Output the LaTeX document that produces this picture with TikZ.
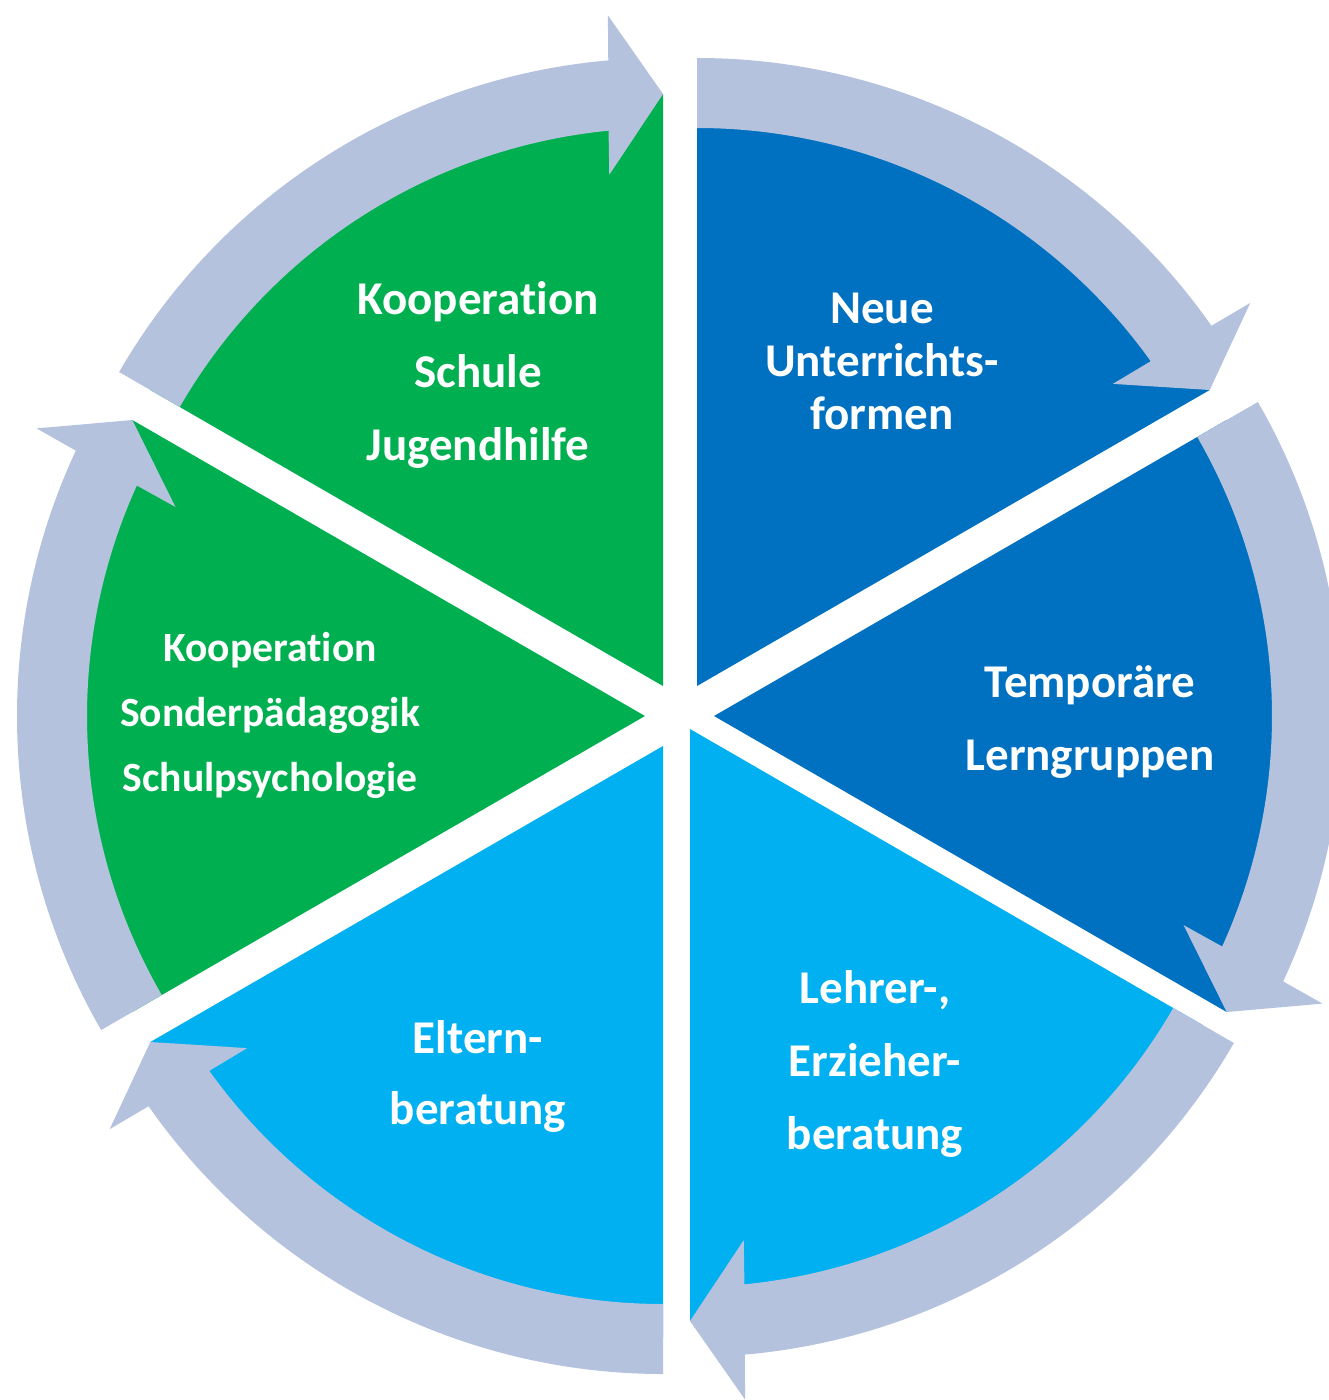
\documentclass[tikz,border=0pt]{standalone}
\usepackage{fontspec}
\setmainfont{Carlito}[Ligatures={NoCommon}]
\usetikzlibrary{calc}
\usepackage{xcolor}
\definecolor{kgreen}{HTML}{00B050}
\definecolor{kblue}{HTML}{0070C0}
\definecolor{kcyan}{HTML}{00B0F0}
\definecolor{kring}{HTML}{B4C2DD}

\begin{document}
\begin{tikzpicture}[x=1pt,y=1pt,
    ring/.style={fill=kring},
    lbl/.style={text=white,align=center,font=\bfseries\fontsize{47}{73}\selectfont}]
        \useasboundingbox (0,0) rectangle (1328,-1400);

        \fill[kblue,shift={(697,-686)}] (0,0) -- (90:592) arc[start angle=90,end angle=30,radius=592] -- cycle;
        \fill[kblue,shift={(714,-716)}] (0,0) -- (30:592) arc[start angle=30,end angle=-30,radius=592] -- cycle;
        \fill[kcyan,shift={(690,-729)}] (0,0) -- (-30:592) arc[start angle=-30,end angle=-90,radius=592] -- cycle;
        \fill[kcyan,shift={(663,-746)}] (0,0) -- (270:592) arc[start angle=270,end angle=210,radius=592] -- cycle;
        \fill[kgreen,shift={(645,-716)}] (0,0) -- (210:592) arc[start angle=210,end angle=150,radius=592] -- cycle;
        \fill[kgreen,shift={(663,-686)}] (0,0) -- (150:592) arc[start angle=150,end angle=90,radius=592] -- cycle;

        \fill[ring,shift={(697,-686)}] (90:628) arc[start angle=90,end angle=35,radius=628] -- (34.7:673) -- (30:592) -- (36:514) -- (35.6:558) arc[start angle=35.6,end angle=90,radius=558] -- cycle;
        \fill[ring,shift={(714,-716)}] (30:628) arc[start angle=30,end angle=-25,radius=628] -- (-25.3:673) -- (-30:592) -- (-24:514) -- (-24.4:558) arc[start angle=-24.4,end angle=30,radius=558] -- cycle;
        \fill[ring,shift={(690,-729)}] (-30:628) arc[start angle=-30,end angle=-85,radius=628] -- (-85.3:673) -- (-90:592) -- (-84:514) -- (-84.4:558) arc[start angle=-84.4,end angle=-30,radius=558] -- cycle;
        \fill[ring,shift={(663,-746)}] (270:628) arc[start angle=270,end angle=215,radius=628] -- (214.7:673) -- (210:592) -- (216:514) -- (215.6:558) arc[start angle=215.6,end angle=270,radius=558] -- cycle;
        \fill[ring,shift={(645,-716)}] (210:628) arc[start angle=210,end angle=155,radius=628] -- (154.7:673) -- (150:592) -- (156:514) -- (155.6:558) arc[start angle=155.6,end angle=210,radius=558] -- cycle;
        \fill[ring,shift={(663,-686)}] (150:628) arc[start angle=150,end angle=95,radius=628] -- (94.7:673) -- (90:592) -- (96:514) -- (95.6:558) arc[start angle=95.6,end angle=150,radius=558] -- cycle;

        \node[lbl,font=\bfseries\fontsize{47}{53}\selectfont] (neue) at (882,-361) {Neue\\Unterrichts-\\formen};
        \node[lbl] (temp) at (1090,-722) {Temporäre\\Lerngruppen};
        \node[lbl] (lehrer) at (875,-1064) {Lehrer-,\\Erzieher-\\beratung};
        \node[lbl,font=\bfseries\fontsize{47}{71}\selectfont] (eltern) at (478,-1076) {Eltern-\\beratung};
        \node[lbl,font=\bfseries\fontsize{41.6}{65}\selectfont] (sonder) at (270,-715) {Kooperation\\Sonderpädagogik\\Schulpsychologie};
        \node[lbl] (jugend) at (478,-375) {Kooperation\\Schule\\Jugendhilfe};
\end{tikzpicture}
\end{document}
